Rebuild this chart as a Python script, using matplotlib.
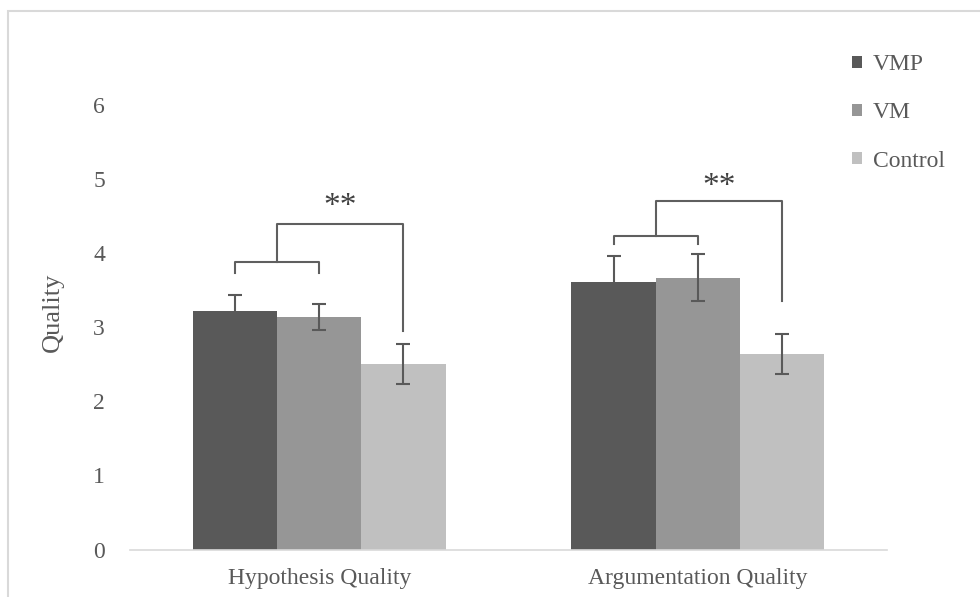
import matplotlib
matplotlib.use("Agg")
import matplotlib.pyplot as plt
from matplotlib.patches import Rectangle
import numpy as np

plt.rcParams['font.family'] = ['Liberation Serif', 'DejaVu Serif']

categories = ["Hypothesis Quality", "Argumentation Quality"]
series = ["VMP", "VM", "Control"]
vmp = [3.22, 3.61]
vm = [3.14, 3.67]
control = [2.50, 2.64]
vmp_err = [0.21, 0.35]
vm_err = [0.18, 0.32]
control_err = [0.27, 0.27]
yticks = [0, 1, 2, 3, 4, 5, 6]

# significance brackets per category
inner_y = [3.885, 4.232]
inner_leg = [3.736, 4.124]
outer_y = [4.39, 4.71]
outer_leg = [2.95, 3.355]
star_y = [4.63, 4.90]
star_text = "**"

colors = ["#595959", "#969696", "#c0c0c0"]
err_color = "#595959"
fs = 17

fig = plt.figure(figsize=(9.8, 5.97), dpi=100)
ax = fig.add_axes([130/980, 1-549.5/597, (887-130)/980, (549.5-105)/597])

x = np.arange(len(categories))
w = 0.2225
vals = [vmp, vm, control]
errs = [vmp_err, vm_err, control_err]
for i, (v, e, c, name) in enumerate(zip(vals, errs, colors, series)):
    pos = x + (i - 1) * w
    ax.bar(pos, v, width=w, color=c, label=name, zorder=2)
    ax.errorbar(pos, v, yerr=e, fmt='none', ecolor=err_color, elinewidth=1.5,
                capsize=4.7, capthick=1.5, zorder=3)

bc = "#5f5f5f"
for k in range(len(categories)):
    xa = x[k] - w
    xb = x[k]
    xc = x[k] + w
    xm = (xa + xb) / 2
    ax.plot([xa, xa, xb, xb], [inner_leg[k], inner_y[k], inner_y[k], inner_leg[k]],
            color=bc, lw=1.5, clip_on=False, zorder=4)
    ax.plot([xm, xm, xc, xc], [inner_y[k], outer_y[k], outer_y[k], outer_leg[k]],
            color=bc, lw=1.5, clip_on=False, zorder=4)
    ax.text((xm + xc) / 2, star_y[k], star_text, ha='center', va='center',
            fontsize=24, color="#404040")

ax.set_xlim(-0.5, 1.5)
ax.set_ylim(0, 6)
ax.set_yticks(yticks)
ax.set_yticklabels([str(t) for t in yticks], fontsize=fs, color="#595959")
ax.set_xticks(x)
ax.set_xticklabels(categories, fontsize=fs, color="#595959")
ax.tick_params(axis='both', length=0)
ax.tick_params(axis='y', pad=18)
ax.tick_params(axis='x', pad=13)
for s in ['top', 'right', 'left']:
    ax.spines[s].set_visible(False)
ax.spines['bottom'].set_color("#d9d9d9")
ax.spines['bottom'].set_linewidth(1.2)
ax.set_ylabel("Quality", fontsize=19, color="#595959")
ax.yaxis.set_label_coords(-0.087, 0.534)

leg = fig.legend(loc='upper left', bbox_to_anchor=(831/980, 1-33/597), frameon=False,
                 fontsize=fs, handlelength=0.42, handleheight=0.42, handletextpad=0.45,
                 labelspacing=1.15, labelcolor="#595959")

fig.patches.append(Rectangle((8/980, -0.05), 1.1, 1 - 11/597 + 0.05, transform=fig.transFigure,
                             fill=False, edgecolor="#d9d9d9", lw=1.5, zorder=0))

fig.savefig("out.png", dpi=100)
